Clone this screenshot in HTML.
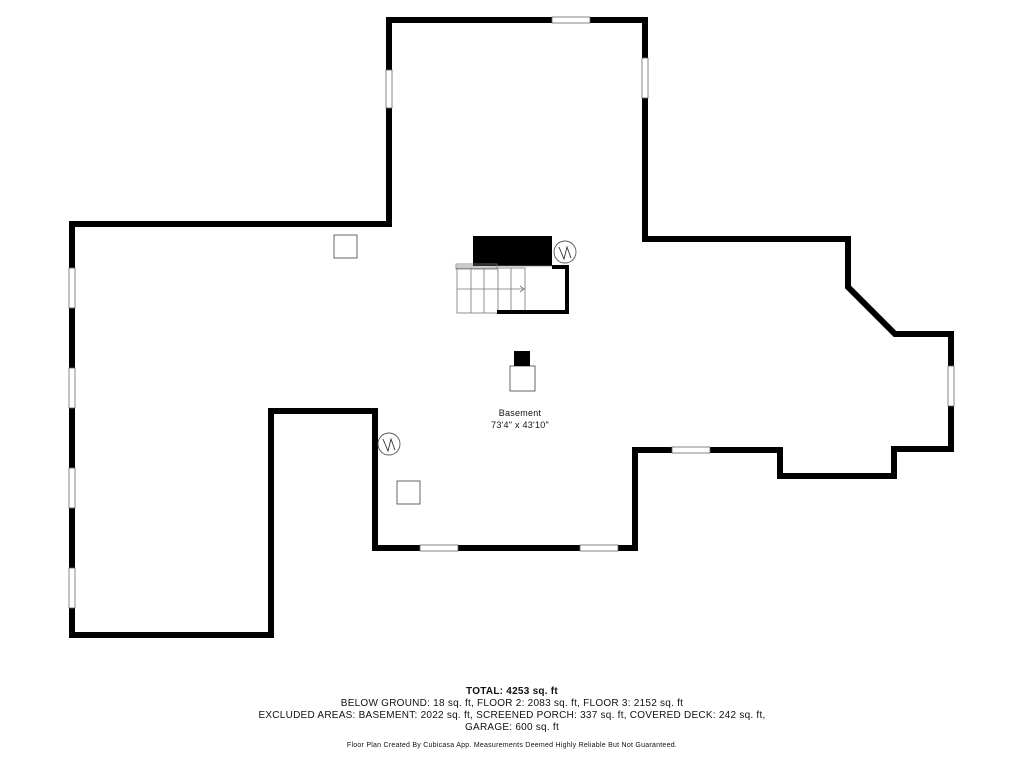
<!DOCTYPE html>
<html><head><style>
body{margin:0;background:#fff;width:1024px;height:768px;overflow:hidden;font-family:"Liberation Sans",sans-serif}
.t{position:absolute;left:0;width:1024px;text-align:center;color:#111;letter-spacing:0.25px}
</style></head><body>
<svg width="1024" height="768" style="position:absolute;left:0;top:0">
<polygon points="72,224 389,224 389,20 645,20 645,239 848,239 848,287 895,334 951,334 951,449 894,449 894,476 780,476 780,450 635,450 635,548 375,548 375,411 271,411 271,635 72,635" fill="#fff" stroke="#000" stroke-width="6" stroke-linejoin="miter"/>
<g fill="#fff" stroke="#666" stroke-width="0.8">
<rect x="552" y="17" width="38" height="6"/>
<rect x="642" y="58" width="6" height="40"/>
<rect x="386" y="70" width="6" height="38"/>
<rect x="69" y="268" width="6" height="40"/>
<rect x="69" y="368" width="6" height="40"/>
<rect x="69" y="468" width="6" height="40"/>
<rect x="69" y="568" width="6" height="40"/>
<rect x="948" y="366" width="6" height="40"/>
<rect x="420" y="545" width="38" height="6"/>
<rect x="580" y="545" width="38" height="6"/>
<rect x="672" y="447" width="38" height="6"/>
</g>
<rect x="473" y="236" width="79" height="30" fill="#000"/>
<g stroke="#777" stroke-width="0.8" fill="none">
<rect x="456" y="264" width="41" height="5"/>
<rect x="457" y="268" width="68" height="45"/>
<line x1="471" y1="268" x2="471" y2="313"/><line x1="484" y1="268" x2="484" y2="313"/>
<line x1="498" y1="268" x2="498" y2="313"/><line x1="511" y1="268" x2="511" y2="313"/>
<line x1="457" y1="289" x2="525" y2="289"/>
<line x1="457" y1="266" x2="568" y2="266"/>
<polyline points="520,286 524,289 520,292"/>
</g>
<polyline points="552,267 567,267 567,312 497,312" fill="none" stroke="#000" stroke-width="4"/>
<g stroke="#555" stroke-width="0.9" fill="#fff">
<circle cx="565" cy="252" r="11"/>
<circle cx="389" cy="444" r="11"/>
<rect x="334" y="235" width="23" height="23"/>
<rect x="397" y="481" width="23" height="23"/>
<rect x="510" y="366" width="25" height="25"/>
</g>
<polyline points="559,247 564,259 567,247 571,258" fill="none" stroke="#333" stroke-width="0.9"/>
<polyline points="383,439 388,451 391,439 395,450" fill="none" stroke="#333" stroke-width="0.9"/>
<rect x="514" y="351" width="16" height="15" fill="#000"/>
</svg>
<div class="t" style="top:408px;font-size:9px;left:8px">Basement</div>
<div class="t" style="top:420px;font-size:9px;left:8px">73'4" x 43'10"</div>
<div class="t" style="top:686px;font-size:10px;font-weight:bold">TOTAL: 4253 sq. ft</div>
<div class="t" style="top:698px;font-size:10px">BELOW GROUND: 18 sq. ft, FLOOR 2: 2083 sq. ft, FLOOR 3: 2152 sq. ft</div>
<div class="t" style="top:710px;font-size:10px">EXCLUDED AREAS: BASEMENT: 2022 sq. ft, SCREENED PORCH: 337 sq. ft, COVERED DECK: 242 sq. ft,</div>
<div class="t" style="top:722px;font-size:10px">GARAGE: 600 sq. ft</div>
<div class="t" style="top:742px;font-size:7px">Floor Plan Created By Cubicasa App. Measurements Deemed Highly Reliable But Not Guaranteed.</div>
</body></html>
